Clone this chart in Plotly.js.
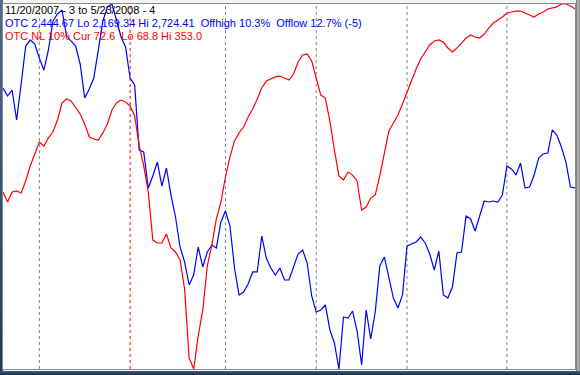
<!DOCTYPE html>
<html>
<head>
<meta charset="utf-8">
<script src="https://cdn.plot.ly/plotly-3.0.1.min.js"></script>
<style>
  html, body { margin: 0; padding: 0; background: #ffffff; }
  #wrap { position: relative; width: 580px; height: 375px; overflow: hidden; background: #f4f4f4; }
  #leftbar { position: absolute; left: 0; top: 0; width: 3px; height: 375px; background: linear-gradient(#4a6a92, #203a60); }
  #bottombar { position: absolute; left: 0; top: 371px; width: 580px; height: 4px; background: linear-gradient(#3c5a80, #172c4c); }
  #rightbar { position: absolute; left: 576px; top: 0; width: 4px; height: 371px; background: linear-gradient(90deg, #6e6e6e, #b8b8b8, #8a8a8a); }
  #chart { position: absolute; left: 0; top: 0; width: 580px; height: 375px; }
</style>
</head>
<body>
<div id="wrap">
  <div id="leftbar"></div>
  <div id="bottombar"></div>
  <div id="rightbar"></div>
  <div id="chart"></div>
</div>
<script>
// Trading-day index (11/20/2007 .. 5/23/2008)
const dayIndex = Array.from({length: 127}, (_, i) => i);

// OTC (Nasdaq Composite) close
const otcValues = [
  2596.7, 2584.5, 2593.6, 2548.0, 2602.7, 2660.5, 2669.7, 2663.6, 2642.3, 2624.0,
  2654.5, 2698.5, 2709.2, 2715.3, 2675.7, 2668.1, 2660.5, 2633.2, 2581.5, 2595.1,
  2611.9, 2654.5, 2698.5, 2719.9, 2724.4, 2700.1, 2674.2, 2659.0, 2611.9, 2601.2,
  2502.4, 2499.3, 2444.6, 2462.8, 2484.1, 2447.6, 2475.0, 2433.9, 2400.5, 2354.9,
  2332.1, 2297.1, 2312.3, 2354.9, 2324.5, 2347.3, 2357.9, 2353.4, 2393.0, 2409.6,
  2386.8, 2322.9, 2281.9, 2286.5, 2298.6, 2316.9, 2316.9, 2371.6, 2338.1, 2322.9,
  2312.3, 2322.9, 2304.7, 2304.7, 2324.5, 2344.2, 2350.3, 2330.5, 2280.4, 2256.0,
  2259.1, 2266.7, 2228.7, 2208.9, 2169.3, 2248.4, 2246.9, 2257.5, 2227.1, 2175.4,
  2259.1, 2215.0, 2256.0, 2326.0, 2339.7, 2310.8, 2277.3, 2262.1, 2281.9, 2356.4,
  2359.4, 2362.5, 2370.1, 2361.0, 2344.2, 2319.9, 2348.8, 2281.9, 2277.3, 2294.0,
  2345.7, 2347.3, 2402.0, 2397.5, 2379.2, 2403.5, 2424.8, 2423.3, 2424.8, 2423.3,
  2433.9, 2478.0, 2473.5, 2464.4, 2482.6, 2444.6, 2446.1, 2464.4, 2490.2, 2496.3,
  2497.8, 2532.8, 2525.2, 2506.9, 2484.1, 2446.1, 2444.7
];

// OTC NL 10% indicator
const nlValues = [
  206.6, 198.8, 206.6, 207.4, 205.8, 215.2, 226.9, 237.0, 245.5, 242.4,
  248.7, 253.3, 262.7, 275.9, 279.0, 277.5, 272.8, 267.3, 259.6, 249.4,
  247.9, 247.1, 252.6, 259.6, 270.5, 275.9, 278.2, 276.7, 273.6, 265.8,
  243.0, 226.9, 206.6, 169.2, 166.9, 166.9, 173.9, 163.0, 159.9, 153.7,
  131.1, 77.4, 68.8, 94.5, 114.7, 149.0, 165.3, 185.6, 198.8, 218.3,
  233.9, 246.3, 252.6, 257.2, 265.0, 271.2, 279.0, 287.6, 293.0, 294.6,
  296.2, 296.9, 295.4, 293.8, 298.5, 307.8, 313.3, 314.1, 308.6, 294.6,
  282.1, 279.8, 261.9, 239.3, 219.1, 216.0, 222.2, 219.8, 215.2, 192.6,
  194.9, 201.9, 204.3, 219.1, 237.8, 254.1, 260.3, 266.6, 275.1, 284.5,
  294.6, 302.4, 310.2, 315.6, 321.1, 324.2, 325.0, 323.4, 318.7, 315.6,
  318.7, 322.6, 326.5, 328.9, 327.3, 326.5, 329.6, 334.3, 338.2, 340.5,
  342.9, 346.0, 346.8, 347.5, 347.5, 346.0, 344.4, 342.9, 345.2, 346.8,
  349.1, 349.9, 350.7, 353.0, 353.0, 351.4, 349.1
];

// Month boundaries (trading-day index) and the highlighted one
const monthStarts = [8, 28, 49, 69, 89, 111];
const redMarker = 28;

const otcRange = [2169.34, 2724.41];
const nlRange = [68.8, 353.0];

const headerLines = [
  {text: '11/20/2007 - 3 to 5/23/2008 - 4', color: '#000000'},
  {text: 'OTC 2,444.67 Lo 2,169.34 Hi 2,724.41 \u00a0Offhigh 10.3% \u00a0Offlow 12.7% (-5)', color: '#0000ff'},
  {text: 'OTC NL 10% Cur 72.6 \u00a0Lo 68.8 Hi 353.0', color: '#ff0000'}
];

const traces = [
  {x: dayIndex, y: otcValues, type: 'scatter', mode: 'lines', yaxis: 'y',
   line: {color: '#0000ff', width: 1.2}, hoverinfo: 'skip'},
  {x: dayIndex, y: nlValues, type: 'scatter', mode: 'lines', yaxis: 'y2',
   line: {color: '#ff0000', width: 1.2}, hoverinfo: 'skip'}
];

const shapes = monthStarts.map(m => ({
  type: 'line', xref: 'x', yref: 'paper', x0: m, x1: m, y0: 0, y1: 1,
  line: {color: m === redMarker ? '#ff0000' : '#808080', width: 1, dash: '3px,3px'},
  layer: 'below'
}));

const headerY = [0.9847, 0.9490, 0.9121];
const annotations = headerLines.map((h, k) => ({
  xref: 'paper', yref: 'paper', x: 0.002, y: headerY[k],
  xanchor: 'left', yanchor: 'middle', showarrow: false,
  text: h.text, font: {family: 'Liberation Sans, Arial, sans-serif', size: 11, color: h.color},
  borderpad: 0
}));

const layout = {
  width: 580, height: 375,
  margin: {l: 3, r: 5, t: 4, b: 6, pad: 0},
  paper_bgcolor: 'rgba(0,0,0,0)',
  plot_bgcolor: '#ffffff',
  showlegend: false,
  xaxis: {range: [0, 126], showgrid: false, zeroline: false, showticklabels: false, ticks: '',
          showline: true, mirror: true, linecolor: '#8a8a8a', linewidth: 1, fixedrange: true},
  yaxis: {range: otcRange, showgrid: false, zeroline: false, showticklabels: false, ticks: '',
          showline: true, mirror: true, linecolor: '#8a8a8a', linewidth: 1, fixedrange: true},
  yaxis2: {range: nlRange, overlaying: 'y', showgrid: false, zeroline: false,
           showticklabels: false, ticks: '', fixedrange: true},
  shapes: shapes,
  annotations: annotations
};

Plotly.newPlot('chart', traces, layout, {staticPlot: true, displayModeBar: false});
</script>
</body>
</html>
